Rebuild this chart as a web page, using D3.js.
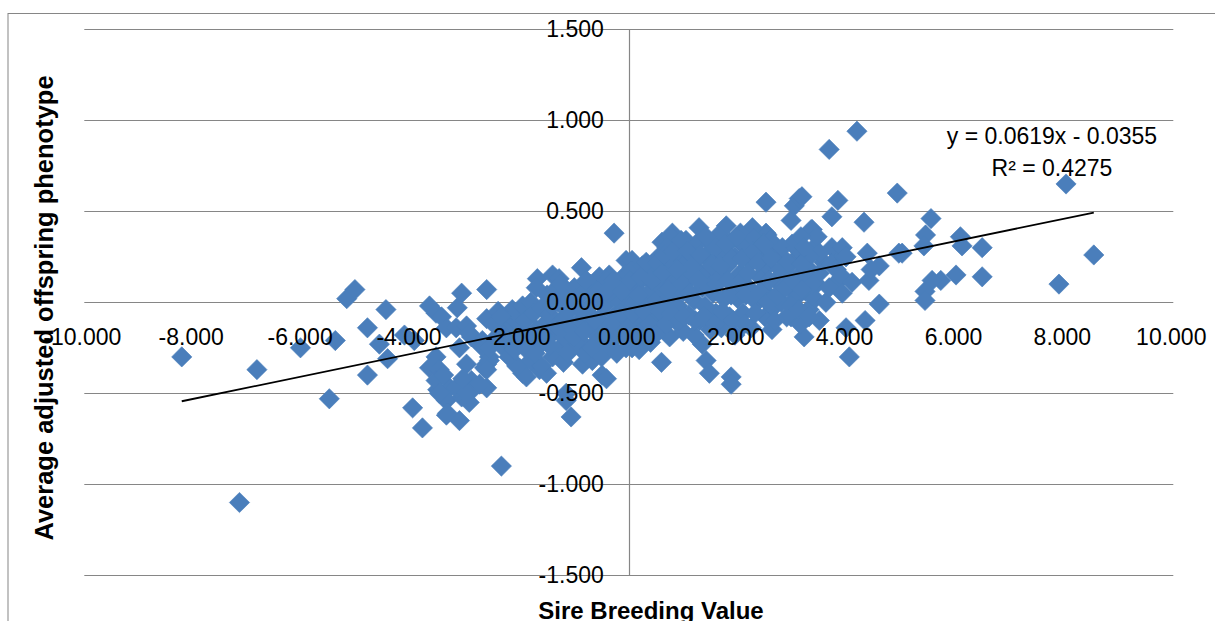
<!DOCTYPE html>
<html>
<head>
<meta charset="utf-8">
<script src="https://cdn.jsdelivr.net/npm/d3@7"></script>
<style>
  html, body { margin: 0; padding: 0; background: #ffffff; }
  svg { display: block; }
</style>
</head>
<body>
<svg id="chart" width="1215" height="621"></svg>
<script>
// ---------------- DATA ----------------
const xTicks = [-10, -8, -6, -4, -2, 0, 2, 4, 6, 8, 10];
const yTicks = [-1.5, -1.0, -0.5, 0, 0.5, 1.0, 1.5];

const xTitle = "Sire Breeding Value";
const yTitle = "Average adjusted offspring phenotype";

// trend line (as printed on the chart)
const trendSlope = 0.0619;
const trendIntercept = -0.0355;
const trendR2 = 0.4275;

// [sire breeding value, average adjusted offspring phenotype]
const leftPoints = [
  [-8.21,-0.30],[-7.15,-1.10],[-6.83,-0.37],[-6.03,-0.25],[-5.50,-0.53],[-5.39,-0.21],[-5.18,0.02],[-5.03,0.07],
  [-4.80,-0.14],[-4.46,-0.04],[-4.58,-0.23],[-4.43,-0.31],[-4.80,-0.40],[-4.12,-0.18],[-3.94,-0.21],[-3.97,-0.58],
  [-3.79,-0.69],[-3.66,-0.02],[-3.54,-0.06],[-3.44,-0.08],[-3.07,0.05],[-2.61,0.07],[-3.15,-0.03],[-2.61,-0.09],
  [-3.35,-0.14],[-3.17,-0.14],[-2.98,-0.13],[-2.89,-0.19],[-2.71,-0.24],[-3.11,-0.25],[-2.69,-0.21],[-2.93,-0.17]
];
const lowerLeftPoints = [
  [-3.66,-0.36],[-3.54,-0.30],[-3.48,-0.37],[-3.51,-0.48],[-3.29,-0.47],[-3.35,-0.54],[-3.07,-0.52],[-2.98,-0.34],
  [-2.89,-0.43],[-2.87,-0.48],[-2.93,-0.55],[-2.61,-0.47],[-2.74,-0.45],[-2.61,-0.34],[-2.56,-0.30],[-2.65,-0.36],
  [-3.17,-0.47],[-2.98,-0.50],[-3.35,-0.62],[-3.11,-0.65],[-3.33,-0.61],[-3.54,-0.43],[-3.48,-0.50],[-2.56,-0.32],
  [-2.61,-0.37],[-2.34,-0.90],[-3.05,-0.42],[-3.40,-0.40]
];
const nearLeftPoints = [
  [-2.56,-0.25],[-2.43,-0.19],[-2.32,-0.15],[-2.25,-0.14],[-2.14,-0.12],[-2.06,-0.11],[-1.95,-0.16],[-1.95,-0.04],
  [-2.14,-0.04],[-2.06,-0.35],[-1.95,-0.39],[-2.01,-0.36],[-1.88,-0.41],[-2.40,-0.05],[-2.30,-0.25],[-2.20,-0.30],
  [-2.48,-0.12],[-2.35,-0.08],[-2.28,-0.20],[-2.18,-0.22],[-2.10,-0.26],[-2.02,-0.20]
];
const lowOutlierPoints = [
  [-1.64,-0.37],[-1.51,-0.39],[-1.15,-0.50],[-1.15,-0.54],[-1.06,-0.63],[-0.85,-0.34],[-0.67,-0.32],[-0.49,-0.40],
  [-0.41,-0.42],[-0.05,-0.25],[0.06,-0.25],[0.19,-0.26],[0.60,-0.33],[1.35,-0.23],[1.42,-0.32],[1.48,-0.39],
  [1.88,-0.41],[1.88,-0.45],[3.22,-0.19],[2.98,-0.08],[2.63,-0.15],[3.31,-0.04]
];
const highOutlierPoints = [
  [-1.68,0.13],[-1.40,0.15],[-1.28,0.13],[-0.87,0.19],[-0.54,0.14],[-0.36,0.15],[-0.27,0.38],[-0.05,0.23],
  [0.06,0.19],[0.19,0.18],[0.06,0.23],[0.43,0.21],[0.61,0.33],[0.80,0.38],[0.78,0.36],[1.29,0.41],
  [1.79,0.42],[2.27,0.41],[2.52,0.38],[2.12,0.31],[2.63,0.30],[2.54,0.37],[2.52,0.55],[2.98,0.45],
  [3.04,0.53],[3.13,0.57],[3.18,0.58],[3.35,0.40]
];
const centerPoints = [
  [-1.95,-0.02],[-1.90,-0.10],[-1.85,-0.20],[-1.80,0.00],[-1.75,-0.06],[-1.70,-0.15],[-1.65,-0.24],[-1.60,-0.03],
  [-1.55,-0.12],[-1.50,0.04],[-1.50,-0.20],[-1.80,-0.32],[-1.60,-0.35],[-1.70,0.08],
  [-1.45,-0.07],[-1.40,-0.16],[-1.35,0.07],[-1.30,-0.26],[-1.30,0.00],[-1.25,-0.10],[-1.20,-0.19],[-1.15,0.03],
  [-1.10,-0.05],[-1.05,-0.14],[-1.05,-0.25],[-1.00,0.08],[-1.40,-0.30],[-1.20,-0.33],[-1.25,0.10],
  [-0.95,-0.02],[-0.90,-0.10],[-0.90,-0.21],[-0.85,0.05],[-0.80,-0.28],[-0.75,-0.06],[-0.70,-0.15],[-0.70,0.10],
  [-0.65,0.00],[-0.60,-0.22],[-0.55,-0.09],[-0.50,0.06],[-0.50,-0.30],
  [-0.45,-0.02],[-0.40,-0.14],[-0.40,0.12],[-0.35,-0.24],[-0.30,0.03],[-0.25,-0.07],[-0.20,0.09],[-0.20,-0.18],
  [-0.15,0.00],[-0.10,-0.11],[-0.10,0.14],[-0.05,-0.20],[0.00,0.05],[0.00,-0.04],
  [0.05,-0.13],[0.05,0.17],[0.10,0.00],[0.15,0.10],[0.15,-0.20],[0.20,-0.07],[0.25,0.04],[0.25,0.20],
  [0.30,-0.14],[0.35,0.13],[0.35,-0.02],[0.40,0.06],[0.40,-0.22],[0.45,-0.09],[0.50,0.17],[0.50,0.01],
  [0.55,-0.15],[0.55,0.25],[0.60,0.08],[0.65,-0.04],[0.70,0.14],[0.70,0.30],[0.75,-0.19],[0.75,0.03],
  [0.80,0.20],[0.85,-0.10],[0.85,0.10],[0.90,0.27],[0.90,-0.02],[0.95,0.16],[1.00,-0.16],[1.00,0.06],
  [1.05,0.22],[1.05,0.34],[1.10,-0.07],[1.10,0.12],[1.15,0.28],[1.20,0.01],[1.20,-0.18],[1.25,0.18],
  [1.30,0.34],[1.30,-0.10],[1.35,0.08],[1.40,0.25],[1.40,-0.02],[1.45,0.15],[1.50,-0.15],[1.50,0.32],
  [1.55,0.05],[1.55,0.22],[1.60,-0.06],[1.65,0.14],[1.65,0.37],[1.70,0.28],[1.70,-0.14],[1.75,0.02],
  [1.80,0.20],[1.85,-0.08],[1.85,0.33],[1.90,0.10],[1.95,-0.18],[1.95,0.25],[2.00,0.02],
  [2.05,0.16],[2.05,0.38],[2.10,-0.06],[2.20,0.08],[2.25,-0.14],[2.25,0.22],[2.30,0.35],[2.35,0.00],
  [2.40,0.14],[2.45,0.28],[2.50,-0.08],[2.50,0.06],
  [2.55,0.20],[2.60,0.34],[2.65,-0.03],[2.70,0.12],[2.75,0.26],[2.80,0.00],[2.85,0.16],[2.90,-0.08],
  [2.95,0.08],[3.00,0.22],[3.00,0.32],
  [3.05,0.02],[3.10,0.14],[3.15,-0.12],[3.20,0.25],[3.25,0.06],[3.30,-0.04],[3.35,0.17],[3.40,0.30],
  [3.45,0.10],[3.50,-0.10]
];
const centerFillPoints = [
  [-1.88,-0.26],[-1.72,-0.28],[-1.58,-0.18],[-1.45,-0.24],[-1.42,-0.02],[-1.32,-0.13],[-1.18,-0.09],[-1.12,-0.28],
  [-1.02,-0.19],[-0.98,0.02],[-0.88,-0.04],[-0.82,-0.16],[-0.78,0.12],[-0.68,-0.25],[-0.62,-0.10],[-0.58,0.06],
  [-0.45,-0.18],[-0.42,0.06],[-0.32,-0.12],[-0.28,0.12],[-0.22,-0.28],[-0.15,-0.06],[-0.12,0.06],[-0.02,-0.14],
  [0.02,0.12],[0.08,-0.06],[0.12,-0.18],[0.18,0.04],[0.22,0.14],[0.28,-0.05],[0.32,0.22],[0.38,-0.12],
  [0.42,0.12],[0.48,-0.18],[0.52,0.22],[0.58,-0.05],[0.62,0.16],[0.66,0.26],[0.68,-0.12],[0.72,0.07],
  [0.78,-0.06],[0.82,0.28],[0.88,0.18],[0.92,-0.10],[0.96,0.34],[0.98,0.10],[1.02,-0.08],[1.08,0.28],
  [1.12,0.05],[1.18,0.20],[1.22,-0.10],[1.28,0.12],[1.32,0.26],[1.38,-0.08],[1.42,0.36],[1.48,0.08],
  [1.52,0.20],[1.58,-0.12],[1.60,0.30],[1.62,0.10],[1.68,0.20],[1.72,-0.05],[1.78,0.32],[1.82,0.12],
  [1.88,0.04],[1.90,0.24],[1.92,-0.10],[1.98,0.36],[2.02,0.10],[2.08,0.24],[2.12,-0.12],[2.15,0.04],
  [2.18,0.16],[2.28,0.28],[2.32,-0.06],[2.38,0.22],[2.42,0.06],[2.48,0.32],[2.55,0.00],[2.58,0.12],
  [2.62,0.24],[2.68,-0.10],[2.72,0.04],[2.78,0.18],[2.82,0.30],[2.88,0.08],[2.92,0.22],[2.98,-0.02],
  [3.02,0.12],[3.08,0.30],[3.12,-0.04],[3.28,0.14],[3.42,0.02],[3.58,0.22],[3.62,0.00],[3.85,0.25],
  [3.78,0.10]
];
const rightClusterPoints = [
  [3.37,0.40],[3.46,0.36],[3.73,0.30],[3.92,0.30],[3.99,0.25],[3.50,0.27],[3.31,0.25],[3.18,0.21],
  [3.73,0.21],[3.81,0.18],[3.92,0.14],[4.10,0.11],[3.50,0.16],[3.37,0.10],[3.18,0.07],[3.68,0.08],
  [3.92,0.05],[3.16,0.36],[3.22,0.30]
];
const rightPoints = [
  [4.19,0.94],[3.68,0.84],[4.93,0.60],[8.03,0.65],[8.54,0.26],[7.90,0.10],[3.84,0.56],[3.73,0.47],
  [4.32,0.44],[5.55,0.46],[5.45,0.37],[5.42,0.31],[6.09,0.36],[6.12,0.31],[6.49,0.30],[6.49,0.14],
  [6.01,0.15],[5.73,0.12],[5.57,0.12],[5.44,0.06],[5.44,0.01],[4.96,0.27],[5.02,0.27],[4.38,0.27],
  [4.60,0.20],[4.41,0.12],[4.60,-0.01],[4.34,-0.10],[4.05,-0.30],[3.99,-0.14],[3.31,-0.08],[4.45,0.18]
];

const allPoints = [].concat(leftPoints, lowerLeftPoints, nearLeftPoints, lowOutlierPoints,
  highOutlierPoints, centerPoints, centerFillPoints, rightClusterPoints, rightPoints);

// ---------------- DRAWING ----------------
const svg = d3.select("#chart");
const W = 1215, H = 621;
const plot = { left: 84.3, right: 1173.3, top: 29.3, bottom: 575.3 };

const x = d3.scaleLinear().domain([-10, 10]).range([plot.left, plot.right]);
const y = d3.scaleLinear().domain([-1.5, 1.5]).range([plot.bottom, plot.top]);

const gridColor = "#868686";
const markerColor = "#4A7EBB";
const tickFont = "'Liberation Sans', Arial, sans-serif";

svg.append("rect").attr("width", W).attr("height", H).attr("fill", "#ffffff");

// outer chart-area border
svg.append("rect")
  .attr("x", 8).attr("y", 13.5)
  .attr("width", W + 20).attr("height", H + 20)
  .attr("fill", "none").attr("stroke", gridColor).attr("stroke-width", 1);

// horizontal gridlines
svg.append("g").selectAll("line").data(yTicks).join("line")
  .attr("x1", plot.left).attr("x2", plot.right)
  .attr("y1", d => Math.round(y(d)) + 0.5).attr("y2", d => Math.round(y(d)) + 0.5)
  .attr("stroke", gridColor).attr("stroke-width", 1.2);

// vertical axis line at x = 0
svg.append("line")
  .attr("x1", Math.round(x(0)) + 0.5).attr("x2", Math.round(x(0)) + 0.5)
  .attr("y1", y(1.5)).attr("y2", y(-1.5))
  .attr("stroke", gridColor).attr("stroke-width", 1.2);

// markers (diamonds)
const diamond = d3.symbol().type(d3.symbolSquare).size(205);
svg.append("g").selectAll("path").data(allPoints).join("path")
  .attr("d", diamond)
  .attr("transform", d => `translate(${x(d[0])},${y(d[1])}) rotate(45)`)
  .attr("fill", markerColor)
  .attr("stroke", "#4A7EBB").attr("stroke-width", 0.6);

// linear trend line over the data range
const xExtent = d3.extent(allPoints, d => d[0]);
const trendData = xExtent.map(v => [v, trendSlope * v + trendIntercept]);
svg.append("path")
  .datum(trendData)
  .attr("d", d3.line().x(d => x(d[0])).y(d => y(d[1])))
  .attr("fill", "none").attr("stroke", "#000000").attr("stroke-width", 1.8);

// x tick labels
svg.append("g").selectAll("text").data(xTicks).join("text")
  .attr("x", d => x(d) - 2).attr("y", 345)
  .attr("text-anchor", "middle")
  .attr("font-family", tickFont).attr("font-size", 23).attr("fill", "#000")
  .text(d => d.toFixed(3));

// y tick labels
svg.append("g").selectAll("text").data(yTicks).join("text")
  .attr("x", x(0) - 25).attr("y", d => y(d) + 8)
  .attr("text-anchor", "end")
  .attr("font-family", tickFont).attr("font-size", 23).attr("fill", "#000")
  .text(d => d.toFixed(3));

// axis titles
svg.append("text")
  .attr("x", 651).attr("y", 619)
  .attr("text-anchor", "middle")
  .attr("font-family", tickFont).attr("font-weight", "bold").attr("font-size", 24)
  .attr("fill", "#000").text(xTitle);

svg.append("text")
  .attr("transform", "translate(53,308) rotate(-90)")
  .attr("text-anchor", "middle")
  .attr("font-family", tickFont).attr("font-weight", "bold").attr("font-size", 25.5)
  .attr("fill", "#000").text(yTitle);

// trend line equation
const eq = svg.append("g").attr("font-family", tickFont).attr("font-size", 23).attr("fill", "#000");
eq.append("text").attr("x", 1052).attr("y", 143.5).attr("text-anchor", "middle")
  .text(`y = ${trendSlope.toFixed(4)}x - ${Math.abs(trendIntercept).toFixed(4)}`);
eq.append("text").attr("x", 1052).attr("y", 176).attr("text-anchor", "middle")
  .text(`R² = ${trendR2.toFixed(4)}`);
</script>
</body>
</html>
